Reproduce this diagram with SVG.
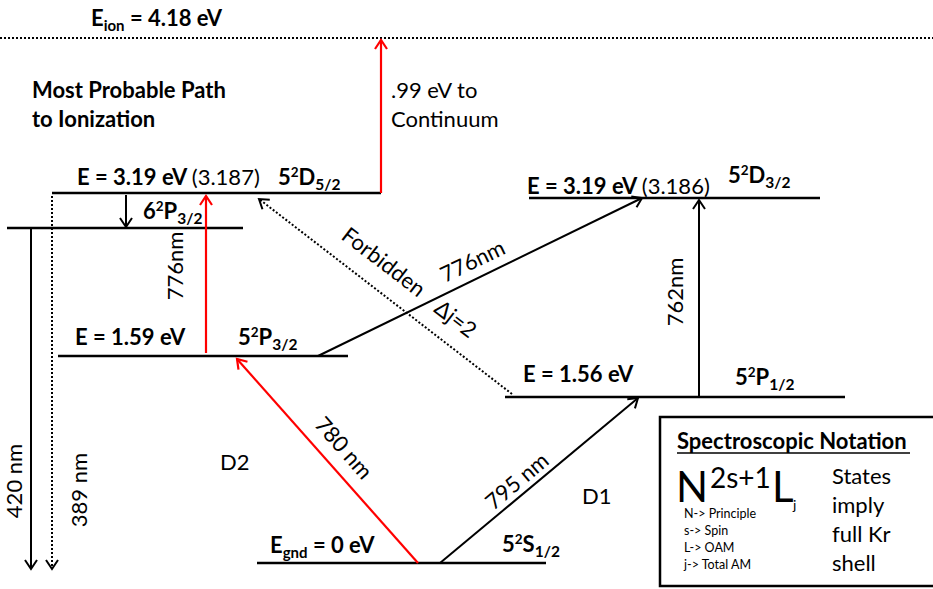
<svg xmlns="http://www.w3.org/2000/svg" width="933" height="589" viewBox="0 0 933 589">
<style>
text{font-family:Lato,"Liberation Sans",sans-serif;fill:#000}
.b{font-weight:bold;font-size:22px}
.n{font-size:22px}
.lvl{stroke:#000;stroke-width:2.5;fill:none}
.ar{stroke:#000;stroke-width:2;fill:none}
.red{stroke:#f00;stroke-width:2.2;fill:none}
.dot{stroke:#000;stroke-width:2;fill:none;stroke-dasharray:2 2}
.sm{font-size:12.5px}
</style>
<defs>
<marker id="ah" markerUnits="userSpaceOnUse" markerWidth="20" markerHeight="20" refX="10" refY="10" orient="auto" overflow="visible">
<path d="M1,4 L10,10 L1,16" fill="none" stroke="#000" stroke-width="2"/>
</marker>
<marker id="ahr" markerUnits="userSpaceOnUse" markerWidth="20" markerHeight="20" refX="10" refY="10" orient="auto" overflow="visible">
<path d="M1,4 L10,10 L1,16" fill="none" stroke="#f00" stroke-width="2.2"/>
</marker>
</defs>
<rect width="933" height="589" fill="#fff"/>

<g id="ionization">
<line x1="0" y1="38" x2="933" y2="38" class="dot"/>
<text x="91" y="26" class="b">E<tspan dy="5" font-size="15">ion</tspan><tspan dy="-5"> = 4.18 eV</tspan></text>
</g>

<g id="title">
<text x="32" y="98" class="b">Most Probable Path</text>
<text x="32" y="127" class="b">to Ionization</text>
</g>

<g id="level-5D52">
<line x1="52" y1="193" x2="381" y2="193" class="lvl"/>
<text x="77" y="185" class="b">E = 3.19 eV <tspan font-weight="normal">(3.187)</tspan></text>
<text x="278" y="185" class="b">5<tspan dy="-8" font-size="13.5">2</tspan><tspan dy="8">D</tspan><tspan dy="5" font-size="15.5">5/2</tspan></text>
</g>

<g id="level-6P32">
<line x1="7" y1="228" x2="243" y2="228" class="lvl"/>
<text x="143" y="219" class="b">6<tspan dy="-8" font-size="13.5">2</tspan><tspan dy="8">P</tspan><tspan dy="5" font-size="15.5">3/2</tspan></text>
</g>

<g id="level-5P32">
<line x1="58" y1="356" x2="348" y2="356" class="lvl"/>
<text x="75" y="345" class="b">E = 1.59 eV</text>
<text x="238" y="345" class="b">5<tspan dy="-8" font-size="13.5">2</tspan><tspan dy="8">P</tspan><tspan dy="5" font-size="15.5">3/2</tspan></text>
</g>

<g id="level-5D32">
<line x1="529" y1="198" x2="820" y2="198" class="lvl"/>
<text x="527" y="194" class="b">E = 3.19 eV <tspan font-weight="normal">(3.186)</tspan></text>
<text x="728" y="183" class="b">5<tspan dy="-8" font-size="13.5">2</tspan><tspan dy="8">D</tspan><tspan dy="5" font-size="15.5">3/2</tspan></text>
</g>

<g id="level-5P12">
<line x1="505" y1="397" x2="845" y2="397" class="lvl"/>
<text x="523" y="382" class="b">E = 1.56 eV</text>
<text x="735" y="385" class="b">5<tspan dy="-8" font-size="13.5">2</tspan><tspan dy="8">P</tspan><tspan dy="5" font-size="15.5">1/2</tspan></text>
</g>

<g id="level-5S12">
<line x1="257" y1="563" x2="546" y2="563" class="lvl"/>
<text x="270" y="553" class="b">E<tspan dy="5" font-size="15">gnd</tspan><tspan dy="-5"> = 0 eV</tspan></text>
<text x="502" y="552" class="b">5<tspan dy="-8" font-size="13.5">2</tspan><tspan dy="8">S</tspan><tspan dy="5" font-size="15.5">1/2</tspan></text>
</g>

<g id="connectors">
<line x1="381" y1="193" x2="381" y2="40" class="red" marker-end="url(#ahr)"/>
<line x1="206" y1="353" x2="206" y2="196" class="red" marker-end="url(#ahr)"/>
<line x1="418" y1="563" x2="237" y2="359" class="red" marker-end="url(#ahr)"/>
<line x1="126" y1="195" x2="126" y2="227" class="ar" marker-end="url(#ah)"/>
<line x1="31" y1="228" x2="31" y2="569" class="ar" marker-end="url(#ah)"/>
<line x1="52" y1="196" x2="52" y2="569" class="dot" marker-end="url(#ah)"/>
<line x1="318" y1="356" x2="642" y2="198" class="ar" marker-end="url(#ah)"/>
<line x1="699" y1="397" x2="699" y2="200" class="ar" marker-end="url(#ah)"/>
<line x1="512" y1="394" x2="259" y2="199" class="dot" marker-end="url(#ah)"/>
<line x1="440" y1="563" x2="638" y2="398" class="ar" marker-end="url(#ah)"/>
</g>

<g id="connector-labels">
<text x="391" y="98" class="n">.99 eV to</text>
<text x="391" y="127" class="n">Continuum</text>
<text x="22" y="481" class="n" text-anchor="middle" transform="rotate(-90 22 481)">420 nm</text>
<text x="87" y="490" class="n" text-anchor="middle" transform="rotate(-90 87 490)">389 nm</text>
<text x="183" y="266" class="n" text-anchor="middle" transform="rotate(-90 183 266)">776nm</text>
<text x="683" y="292" class="n" text-anchor="middle" transform="rotate(-90 683 292)">762nm</text>
<text x="476" y="268" class="n" text-anchor="middle" transform="rotate(-25.8 476 268)">776nm</text>
<text x="379" y="268" class="n" text-anchor="middle" transform="rotate(37.5 379 268)">Forbidden</text>
<text x="451" y="325" class="n" text-anchor="middle" transform="rotate(37.5 451 325)">Δj=2</text>
<text x="338" y="453" class="n" text-anchor="middle" transform="rotate(48.6 338 453)">780 nm</text>
<text x="522" y="487" class="n" text-anchor="middle" transform="rotate(-40.1 522 487)">795 nm</text>
<text x="220" y="470" class="n">D2</text>
<text x="582" y="504" class="n">D1</text>
</g>

<g id="notation-box">
<rect x="660" y="417" width="280" height="169" fill="none" stroke="#000" stroke-width="2.5"/>
<text x="677" y="449" class="b">Spectroscopic Notation</text>
<line x1="677" y1="453" x2="910" y2="453" stroke="#000" stroke-width="1.5"/>
<text x="676" y="502" font-size="42">N</text>
<text x="710" y="488" font-size="28">2s+1</text>
<text x="772" y="502" font-size="42">L</text>
<text x="793" y="510" font-size="14">j</text>
<text x="684" y="518" class="sm">N-&gt; Principle</text>
<text x="684" y="535" class="sm">s-&gt; Spin</text>
<text x="684" y="552" class="sm">L-&gt; OAM</text>
<text x="684" y="569" class="sm">j-&gt; Total AM</text>
<text x="832" y="484" class="n">States</text>
<text x="832" y="513" class="n">imply</text>
<text x="832" y="542" class="n">full Kr</text>
<text x="832" y="571" class="n">shell</text>
</g>
</svg>
